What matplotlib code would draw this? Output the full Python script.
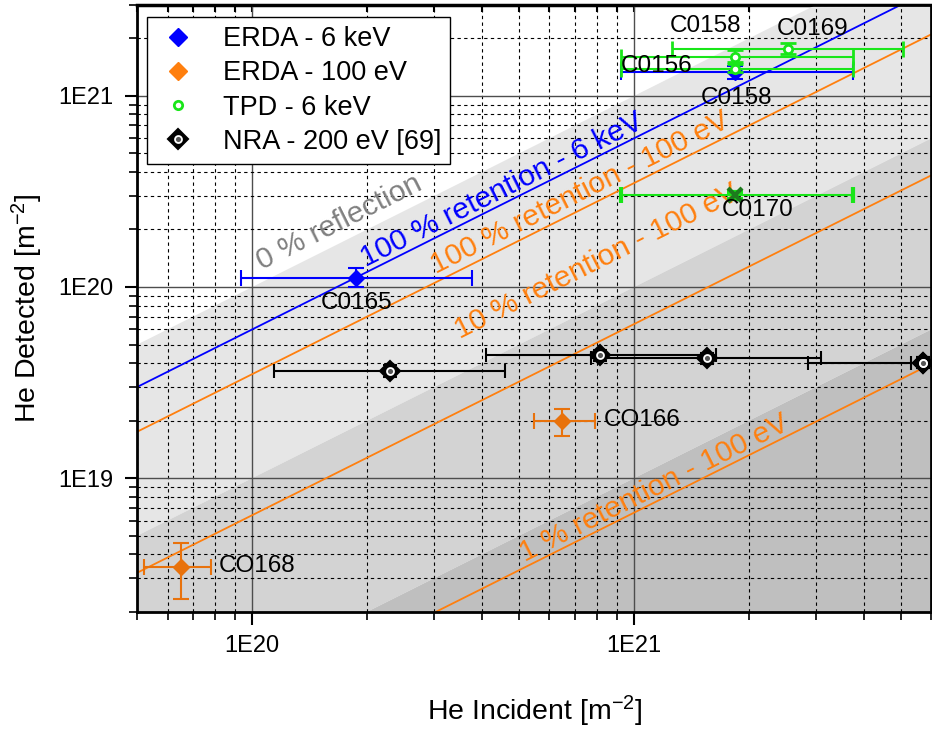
import numpy as np
import matplotlib.pyplot as plt
from matplotlib.lines import Line2D
from matplotlib.ticker import FixedLocator, FuncFormatter, NullFormatter

plt.rcParams['font.family'] = ['Liberation Sans', 'DejaVu Sans']
plt.rcParams['mathtext.default'] = 'regular'

# ERDA - 6 keV  (C0165, C0158)
erda6_x = [1.87e20, 1.84e21]
erda6_xlo = [9.36e19, 9.26e20]
erda6_xhi = [3.77e20, 3.73e21]
erda6_y = [1.12e20, 1.33e21]
erda6_ylo = [1.00e20, 1.22e21]
erda6_yhi = [1.25e20, 1.44e21]

# ERDA - 100 eV  (CO166, CO168)
erda100_x = [6.46e20, 6.52e19]
erda100_xlo = [5.48e20, 5.22e19]
erda100_xhi = [7.89e20, 7.81e19]
erda100_y = [2.00e19, 3.44e18]
erda100_ylo = [1.66e19, 2.33e18]
erda100_yhi = [2.30e19, 4.56e18]

# TPD - 6 keV  (C0169, C0158, C0156)
tpd_x = [2.53e21, 1.84e21, 1.84e21]
tpd_xlo = [1.26e21, 9.26e20, 9.26e20]
tpd_xhi = [5.06e21, 3.73e21, 3.73e21]
tpd_y = [1.75e21, 1.60e21, 1.39e21]
tpd_ylo = [1.66e21, 1.50e21, 1.33e21]
tpd_yhi = [1.89e21, 1.73e21, 1.47e21]

# TPD C0170
c170_x = [1.84e21]
c170_xlo = [9.26e20]
c170_xhi = [3.73e21]
c170_y = [3.02e20]
c170_ylo = [2.90e20]
c170_yhi = [3.14e20]

# NRA - 200 eV [69]
nra_x = [2.29e20, 8.16e20, 1.55e21, 5.71e21, 5.71e21]
nra_xlo = [1.14e20, 4.10e20, 7.73e20, 2.86e21, 5.30e21]
nra_xhi = [4.60e20, 1.64e21, 3.09e21, 1.14e22, 6.15e21]
nra_y = [3.64e19, 4.40e19, 4.23e19, 4.01e19, 4.01e19]
nra_ylo = [3.40e19, 4.12e19, 3.96e19, 3.75e19, 3.75e19]
nra_yhi = [3.90e19, 4.70e19, 4.52e19, 4.29e19, 4.29e19]

# detected / incident ratios
band_edges = [1.0, 0.1, 0.01]
band_colors = ['#e6e6e6', '#d3d3d3', '#bfbfbf']
ret_6kev = 0.6
ret_100ev = [0.35, 0.064, 0.0066]

point_labels = ['C0165', 'C0158', 'C0169', 'C0156', 'C0158', 'C0170', 'CO166', 'CO168']
label_x = [1.87e20, 1.54e21, 2.94e21, 1.146e21, 1.85e21, 2.11e21, 1.05e21, 1.03e20]
label_y = [8.22e19, 2.31e21, 2.25e21, 1.43e21, 9.7e20, 2.52e20, 2.01e19, 3.47e18]

blue = '#0000ff'
orange = '#ff7f0e'
orange_dark = '#e8720c'
green = '#19e619'


def err(v, lo, hi):
    v = np.array(v)
    return [v - np.array(lo), np.array(hi) - v]


fig = plt.figure(figsize=(9.32, 7.31), dpi=100)
ax = fig.add_axes([0.1473, 0.1632, 0.852, 0.8304])
ax.set_xscale('log')
ax.set_yscale('log')
ax.set_xlim(5e19, 6e21)
ax.set_ylim(2e18, 3e21)

# shaded regions
xx = np.array([1e18, 1e23])
ax.fill_between(xx, band_edges[1] * xx, band_edges[0] * xx, color=band_colors[0], lw=0, zorder=0.5)
ax.fill_between(xx, band_edges[2] * xx, band_edges[1] * xx, color=band_colors[1], lw=0, zorder=0.5)
ax.fill_between(xx, 1e15, band_edges[2] * xx, color=band_colors[2], lw=0, zorder=0.5)

# retention lines
ax.plot(xx, ret_6kev * xx, color=blue, lw=1.3, zorder=2)
for r in ret_100ev:
    ax.plot(xx, r * xx, color=orange, lw=1.3, zorder=2)

ang = np.degrees(np.arctan(191.3 / 381.8))
kw = dict(fontsize=21.5, rotation=ang, rotation_mode='anchor', ha='center', va='center')
ax.text(1.69e20, 2.18e20, '0 % reflection', color='#808080', **kw)
ax.text(4.50e20, 3.22e20, '100 % retention - 6 keV', color=blue, **kw)
ax.text(7.2e20, 3.10e20, '100 % retention - 100 eV', color=orange, **kw)
ax.text(8.0e20, 1.36e20, '10 % retention - 100 eV', color=orange, **kw)
ax.text(1.13e21, 8.9e18, '1 % retention - 100 eV', color=orange, **kw)

# data
ax.errorbar(nra_x, nra_y, xerr=err(nra_x, nra_xlo, nra_xhi), yerr=err(nra_y, nra_ylo, nra_yhi),
            fmt='D', ms=10, mfc='black', mec='black', mew=1.5, color='black', ecolor='black',
            elinewidth=1.5, capsize=5, capthick=1.5, zorder=4)
ax.plot(nra_x, nra_y, ls='none', marker='o', ms=5, mfc='#555555', mec='white', mew=1.3, zorder=4.5)
ax.errorbar(tpd_x, tpd_y, xerr=err(tpd_x, tpd_xlo, tpd_xhi), yerr=err(tpd_y, tpd_ylo, tpd_yhi),
            fmt='o', ms=6, mfc='white', mec=green, mew=2, ecolor=green,
            elinewidth=1.5, capsize=6, capthick=1.5, zorder=5)
ax.errorbar(c170_x, c170_y, xerr=err(c170_x, c170_xlo, c170_xhi), yerr=err(c170_y, c170_ylo, c170_yhi),
            fmt='x', ms=10, mec='#1e7a1e', mew=3, ecolor=green,
            elinewidth=1.5, capsize=6, capthick=1.5, zorder=5)
ax.errorbar(erda6_x, erda6_y, xerr=err(erda6_x, erda6_xlo, erda6_xhi), yerr=err(erda6_y, erda6_ylo, erda6_yhi),
            fmt='D', ms=8.5, mfc=blue, mec=blue, ecolor=blue,
            elinewidth=1.5, capsize=6, capthick=1.5, zorder=4)
ax.errorbar(erda100_x, erda100_y, xerr=err(erda100_x, erda100_xlo, erda100_xhi),
            yerr=err(erda100_y, erda100_ylo, erda100_yhi),
            fmt='D', ms=8.5, mfc=orange_dark, mec=orange_dark, ecolor=orange_dark,
            elinewidth=1.5, capsize=6, capthick=1.5, zorder=4)

for s, x, y in zip(point_labels, label_x, label_y):
    ax.text(x, y, s, fontsize=17.5, ha='center', va='center', zorder=6)

# axes styling
ax.grid(which='major', color='#4d4d4d', lw=1.0, ls='-')
ax.grid(which='minor', color='black', lw=0.8, ls=(0, (3, 3)))
ax.xaxis.set_major_locator(FixedLocator([1e20, 1e21]))
ax.yaxis.set_major_locator(FixedLocator([1e19, 1e20, 1e21]))
fmt = FuncFormatter(lambda v, p: '1E%d' % round(np.log10(v)))
ax.xaxis.set_major_formatter(fmt)
ax.yaxis.set_major_formatter(fmt)
ax.xaxis.set_minor_formatter(NullFormatter())
ax.yaxis.set_minor_formatter(NullFormatter())
ax.tick_params(which='major', direction='out', length=9, width=1.5, labelsize=17, pad=8)
ax.tick_params(which='minor', direction='out', length=6, width=1.2)
for sp in ax.spines.values():
    sp.set_linewidth(2)

# inward ticks along the top edge
top = ax.secondary_xaxis('top')
top.xaxis.set_major_locator(FixedLocator([1e20, 1e21]))
top.xaxis.set_major_formatter(NullFormatter())
top.xaxis.set_minor_formatter(NullFormatter())
top.tick_params(which='both', direction='in', length=5, width=1.5)
top.spines['top'].set_linewidth(2.5)

ax.set_xlabel('He Incident [m$^{-2}$]', fontsize=20.5, labelpad=26)
ax.set_ylabel('He Detected [m$^{-2}$]', fontsize=20.5, labelpad=10)

handles = [
    Line2D([], [], ls='none', marker='D', ms=9, mfc=blue, mec=blue),
    Line2D([], [], ls='none', marker='D', ms=9, mfc=orange, mec=orange),
    Line2D([], [], ls='none', marker='o', ms=6, mfc='white', mec=green, mew=2),
    (Line2D([], [], ls='none', marker='D', ms=10, mfc='black', mec='black', mew=1.5),
     Line2D([], [], ls='none', marker='o', ms=5, mfc='#555555', mec='white', mew=1.3)),
]
names = ['ERDA - 6 keV', 'ERDA - 100 eV', 'TPD - 6 keV', 'NRA - 200 eV [69]']
leg = ax.legend(handles, names, loc='upper left', bbox_to_anchor=(0.012, 0.98), borderaxespad=0,
                fontsize=19.5, frameon=True, fancybox=False, framealpha=1, edgecolor='black',
                handlelength=1.6, handletextpad=0.85, labelspacing=0.3, borderpad=0.35)
leg.get_frame().set_linewidth(1.0)
leg.set_zorder(10)

fig.savefig('out.png', dpi=100)
